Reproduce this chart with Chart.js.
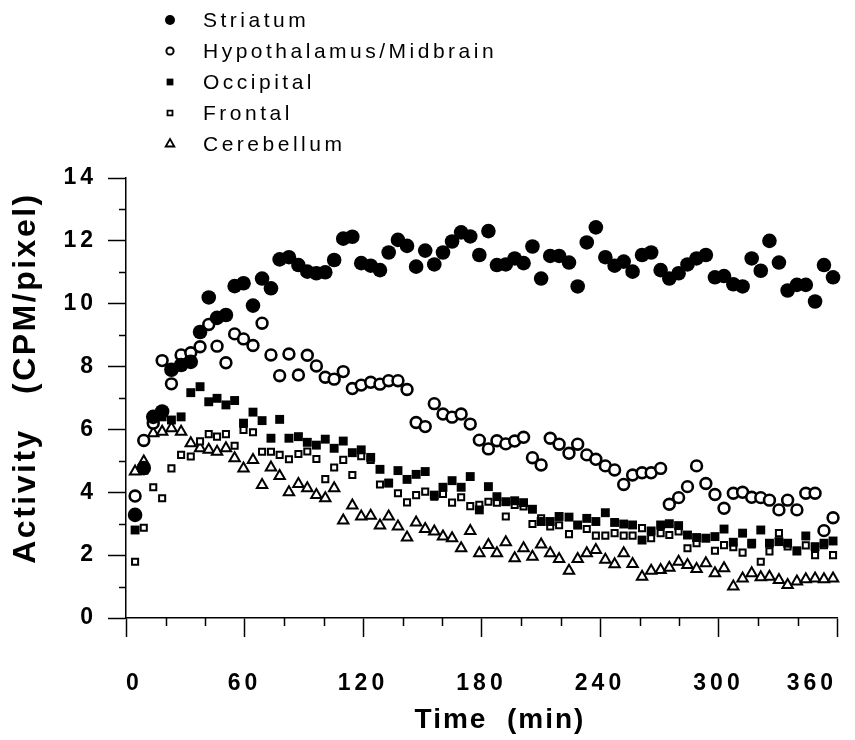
<!DOCTYPE html>
<html>
<head>
<meta charset="utf-8">
<script src="https://cdn.jsdelivr.net/npm/chart.js@4/dist/chart.umd.min.js"></script>
<style>
  html, body { margin: 0; padding: 0; background: #fff; }
</style>
</head>
<body>
<canvas id="grafic" width="855" height="740"></canvas>
<script>
// sampling times (min), shared by all regions
const times = [4.6, 9.0, 13.8, 18.3, 23.0, 27.9, 32.8, 37.5, 41.9, 46.1,
  50.6, 55.0, 59.5, 64.3, 68.9, 73.4, 77.8, 82.5, 87.3, 91.8,
  96.4, 100.9, 105.4, 110.0, 114.6, 119.1, 123.9, 128.6, 133.0, 137.7,
  142.3, 146.9, 151.5, 156.1, 160.5, 165.1, 169.7, 174.3, 178.9, 183.5,
  187.8, 192.3, 196.8, 201.3, 205.8, 210.2, 214.8, 219.3, 224.3, 228.7,
  233.3, 237.9, 242.7, 247.4, 252.0, 256.5, 261.3, 265.9, 270.7, 275.1,
  279.8, 284.3, 288.9, 293.6, 298.2, 302.8, 307.5, 312.2, 316.8, 321.4,
  325.8, 330.6, 335.0, 339.7, 344.2, 348.9, 353.4, 358.0];

const striatum = [3.28, 4.77, 6.4, 6.57, 7.9, 8.05, 8.15, 9.1, 10.2, 9.55,
  9.64, 10.56, 10.65, 9.94, 10.8, 10.49, 11.41, 11.48, 11.23, 11.02,
  10.97, 11.0, 11.39, 12.07, 12.13, 11.29, 11.21, 11.07, 11.63, 12.03,
  11.84, 11.18, 11.69, 11.25, 11.63, 11.98, 12.27, 12.14, 11.55, 12.31,
  11.23, 11.25, 11.44, 11.29, 11.82, 10.8, 11.52, 11.52, 11.31, 10.55,
  11.95, 12.43, 11.48, 11.21, 11.34, 11.02, 11.55, 11.63, 11.07, 10.8,
  10.97, 11.25, 11.44, 11.55, 10.84, 10.88, 10.62, 10.55, 11.44, 11.05,
  12.0, 11.31, 10.42, 10.6, 10.6, 10.07, 11.23, 10.84];

const hypothalamus = [3.88, 5.65, 6.2, 8.19, 7.45, 8.37, 8.44, 8.63, 9.34, 8.65,
  8.12, 9.04, 8.88, 8.67, 9.38, 8.37, 7.71, 8.4, 7.73, 8.36,
  8.02, 7.66, 7.6, 7.84, 7.3, 7.41, 7.5, 7.44, 7.55, 7.55,
  7.27, 6.22, 6.09, 6.82, 6.49, 6.39, 6.49, 6.17, 5.66, 5.38,
  5.64, 5.54, 5.63, 5.75, 5.1, 4.87, 5.72, 5.53, 5.24, 5.53,
  5.19, 5.05, 4.84, 4.71, 4.25, 4.55, 4.62, 4.62, 4.76, 3.62,
  3.83, 4.18, 4.84, 4.28, 3.93, 3.49, 3.97, 4.0, 3.84, 3.83,
  3.75, 3.44, 3.75, 3.44, 3.97, 3.97, 2.78, 3.19];

const occipital = [2.8, 4.7, 6.3, 6.4, 6.3, 6.4, 7.17, 7.36, 6.88, 6.99,
  6.78, 6.92, 6.2, 6.55, 6.28, 5.72, 6.32, 5.72, 5.77, 5.59,
  5.5, 5.69, 5.4, 5.63, 5.26, 5.35, 5.11, 4.73, 4.29, 4.69,
  4.41, 4.57, 4.66, 3.91, 4.16, 4.37, 4.16, 4.5, 3.44, 4.18,
  3.86, 3.7, 3.73, 3.67, 3.46, 3.07, 3.07, 3.23, 3.21, 2.96,
  3.17, 3.07, 3.35, 3.04, 2.99, 2.96, 2.48, 2.77, 2.96, 3.0,
  2.94, 2.64, 2.56, 2.54, 2.59, 2.83, 2.41, 2.7, 2.38, 2.8,
  2.38, 2.43, 2.38, 2.13, 2.61, 2.27, 2.38, 2.45];

const frontal = [1.79, 2.87, 4.16, 3.81, 4.76, 5.19, 5.14, 5.62, 5.85, 5.77,
  5.85, 5.48, 5.98, 5.91, 5.29, 5.29, 5.19, 5.05, 5.22, 5.3,
  5.06, 4.42, 4.79, 5.03, 4.55, 5.15, 5.03, 4.25, 4.3, 3.97,
  3.68, 3.91, 4.02, 3.86, 3.95, 3.67, 3.84, 3.56, 3.6, 3.7,
  3.67, 3.23, 3.6, 3.55, 2.99, 3.17, 2.91, 2.95, 2.67, 2.95,
  2.83, 2.62, 2.62, 2.7, 2.62, 2.62, 2.86, 2.54, 2.7, 2.64,
  2.75, 2.22, 2.38, 2.54, 2.14, 2.32, 2.25, 2.08, 2.34, 1.79,
  2.12, 2.7, 2.28, 2.15, 2.31, 2.0, 2.32, 2.0];

const cerebellum = [4.66, 4.98, 5.88, 5.93, 6.04, 5.93, 5.56, 5.4, 5.35, 5.29,
  5.4, 5.08, 4.76, 5.03, 4.23, 4.79, 4.52, 4.0, 4.26, 4.13,
  3.91, 3.81, 4.13, 3.1, 3.58, 3.23, 3.25, 2.94, 3.23, 2.91,
  2.56, 3.04, 2.83, 2.75, 2.59, 2.54, 2.22, 2.77, 2.06, 2.32,
  2.06, 2.41, 1.9, 2.22, 1.95, 2.34, 2.06, 1.88, 1.5, 1.88,
  2.06, 2.16, 1.85, 1.71, 2.06, 1.72, 1.31, 1.5, 1.53, 1.6,
  1.79, 1.69, 1.56, 1.74, 1.42, 1.58, 1.0, 1.26, 1.42, 1.3,
  1.31, 1.21, 1.05, 1.16, 1.23, 1.26, 1.23, 1.26];

const seriesNames = ['Striatum', 'Hypothalamus/Midbrain', 'Occipital', 'Frontal', 'Cerebellum'];
const xTickValues = [0, 60, 120, 180, 240, 300, 360];
const xMinorTicks = [20, 40, 80, 100, 140, 160, 200, 220, 260, 280, 320, 340];
const yTickValues = [0, 2, 4, 6, 8, 10, 12, 14];
const yMinorTicks = [1, 3, 5, 7, 9, 11, 13];
const xTitle = 'Time  (min)';
const yTitle = 'Activity   (CPM/pixel)';

// === marker styles (chart / legend) ===
const marks = [
  { style: 'circle',   fill: '#000', r: 7.3, bw: 0,   lr: 5,   lbw: 0 },
  { style: 'circle',   fill: '#fff', r: 5.4, bw: 2.6, lr: 3.6, lbw: 2 },
  { style: 'rect',     fill: '#000', r: 6.3, bw: 0,   lr: 4.8, lbw: 0 },
  { style: 'rect',     fill: '#fff', r: 4.3, bw: 2,   lr: 3.5, lbw: 1.8 },
  { style: 'triangle', fill: '#fff', r: 6,   bw: 2,   lr: 5,   lbw: 1.8 }
];
const values = [striatum, hypothalamus, occipital, frontal, cerebellum];

const FONT = '"Liberation Sans", Arial, Helvetica, sans-serif';

const decor = {
  id: 'decor',
  beforeDraw(chart) {
    // wide tracking of the tick numbers
    chart.ctx.letterSpacing = '4px';
  },
  afterDraw(chart) {
    const ctx = chart.ctx;
    const area = chart.chartArea;
    const xs = chart.scales.x, ys = chart.scales.y;
    ctx.save();
    ctx.letterSpacing = '0px';
    ctx.strokeStyle = '#000';
    ctx.lineWidth = 1.5;
    ctx.beginPath();
    yMinorTicks.forEach(v => {
      const py = Math.round(ys.getPixelForValue(v)) + 0.5;
      ctx.moveTo(area.left - 7, py);
      ctx.lineTo(area.left, py);
    });
    xMinorTicks.forEach(v => {
      const px = Math.round(xs.getPixelForValue(v)) + 0.5;
      ctx.moveTo(px, area.bottom);
      ctx.lineTo(px, area.bottom + 8);
    });
    ctx.stroke();

    // axis titles
    ctx.fillStyle = '#000';
    ctx.letterSpacing = '2px';
    ctx.textAlign = 'center';
    ctx.textBaseline = 'middle';
    ctx.font = 'bold 28px ' + FONT;
    ctx.fillText(xTitle, 500, 720);
    ctx.save();
    ctx.translate(26, 378);
    ctx.rotate(-Math.PI / 2);
    ctx.letterSpacing = '2.5px';
    ctx.font = 'bold 32px ' + FONT;
    ctx.fillText(yTitle, 0, 0);
    ctx.restore();

    // legend
    ctx.letterSpacing = '3.5px';
    ctx.font = '21px ' + FONT;
    ctx.textAlign = 'left';
    chart.data.datasets.forEach((ds, i) => {
      const m = marks[i];
      const y = 20 + i * 31;
      ctx.fillStyle = m.fill;
      ctx.strokeStyle = '#000';
      ctx.lineWidth = m.lbw;
      Chart.helpers.drawPoint(ctx, { pointStyle: m.style, radius: m.lr, borderWidth: m.lbw, rotation: 0 }, 170, y);
      ctx.fillStyle = '#000';
      ctx.fillText(ds.label, 203, y + 1);
    });
    ctx.restore();
  }
};

const datasets = seriesNames.map((name, i) => ({
  label: name,
  data: times.map((t, k) => ({ x: t, y: values[i][k] })),
  showLine: false,
  pointStyle: marks[i].style,
  pointRadius: marks[i].r,
  pointBorderWidth: marks[i].bw,
  pointBackgroundColor: marks[i].fill,
  pointBorderColor: '#000',
  pointHoverRadius: marks[i].r,
  clip: false
}));

new Chart(document.getElementById('grafic').getContext('2d'), {
  type: 'scatter',
  data: { datasets },
  options: {
    responsive: false,
    animation: false,
    events: [],
    layout: { padding: { top: 178, right: 18, left: 0, bottom: 0 } },
    plugins: {
      legend: { display: false },
      tooltip: { enabled: false }
    },
    scales: {
      x: {
        type: 'linear',
        min: 0,
        max: 360,
        afterBuildTicks: s => { s.ticks = xTickValues.map(v => ({ value: v })); },
        afterFit: s => { s.height = 122; s.paddingLeft = 0; s.paddingRight = 0; },
        ticks: {
          autoSkip: false,
          maxRotation: 0,
          align: 'inner',
          padding: 33,
          color: '#000',
          font: { family: FONT, size: 23, weight: 'bold' }
        },
        grid: {
          drawOnChartArea: false,
          drawTicks: true,
          tickLength: 19,
          tickWidth: 1.5,
          tickColor: '#000'
        },
        border: { color: '#000', width: 1.5 }
      },
      y: {
        type: 'linear',
        min: 0,
        max: 14,
        afterBuildTicks: s => { s.ticks = yTickValues.map(v => ({ value: v })); },
        afterFit: s => { s.width = 126; },
        ticks: {
          padding: 11,
          color: '#000',
          font: { family: FONT, size: 23, weight: 'bold' }
        },
        grid: {
          drawOnChartArea: false,
          drawTicks: true,
          tickLength: 18,
          tickWidth: 1.5,
          tickColor: '#000'
        },
        border: { color: '#000', width: 1.5 }
      }
    }
  },
  plugins: [decor]
});
</script>
</body>
</html>
